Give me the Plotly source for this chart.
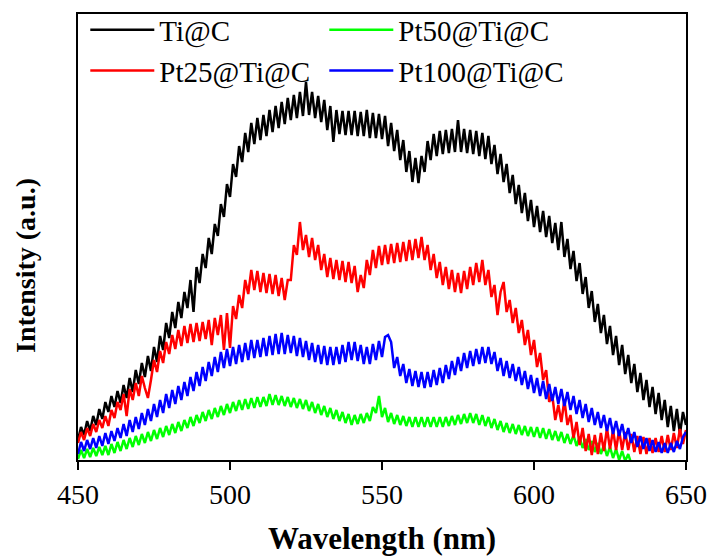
import plotly.graph_objects as go

wl_start = 450

ti_c = [
    20, 33, 25, 39, 29, 44, 35, 51, 41, 58,
    48, 64, 53, 69, 57, 75, 62, 82, 68, 90,
    76, 97, 83, 104, 89, 113, 98, 124, 110, 137,
    122, 148, 132, 158, 142, 168, 152, 180, 148, 193,
    177, 206, 192, 222, 206, 236, 224, 256, 243, 276,
    263, 296, 283, 314, 298, 327, 308, 337, 316, 342,
    320, 345, 324, 350, 328, 354, 332, 358, 336, 362,
    340, 365, 342, 368, 344, 378, 345, 368, 342, 364,
    338, 360, 330, 354, 318, 350, 326, 349, 325, 349,
    325, 349, 324, 348, 324, 350, 322, 347, 322, 346,
    321, 344, 314, 337, 309, 330, 300, 320, 288, 309,
    278, 302, 277, 304, 288, 319, 300, 326, 304, 329,
    306, 330, 307, 331, 308, 340, 308, 331, 307, 330,
    306, 329, 304, 327, 301, 324, 296, 315, 286, 306,
    278, 296, 267, 285, 256, 275, 247, 267, 239, 260,
    233, 254, 228, 249, 223, 244, 217, 237, 210, 238,
    203, 221, 191, 209, 179, 197, 166, 183, 152, 169,
    138, 156, 127, 145, 116, 134, 105, 124, 95, 115,
    86, 105, 77, 96, 68, 87, 60, 80, 53, 73,
    46, 67, 40, 60, 33, 54, 29, 51, 26, 48,
    35,
]

pt50 = [
    1, 10, 2, 11, 3, 12, 4, 13, 5, 14,
    5, 16, 7, 18, 9, 20, 11, 22, 13, 24,
    15, 26, 17, 28, 19, 30, 21, 32, 23, 34,
    25, 36, 27, 38, 29, 40, 32, 43, 34, 45,
    37, 48, 39, 50, 41, 52, 43, 54, 45, 56,
    47, 58, 49, 60, 50, 61, 51, 62, 52, 63,
    53, 63, 54, 66, 55, 65, 55, 64, 54, 63,
    53, 62, 52, 61, 51, 60, 49, 58, 47, 56,
    45, 54, 43, 52, 41, 50, 39, 48, 37, 46,
    35, 45, 36, 46, 37, 47, 39, 53, 47, 64,
    43, 52, 38, 47, 36, 45, 35, 44, 34, 43,
    33, 43, 33, 43, 33, 43, 33, 43, 33, 43,
    33, 43, 34, 44, 35, 45, 36, 46, 37, 47,
    37, 46, 35, 45, 34, 43, 32, 41, 30, 39,
    28, 37, 27, 36, 26, 35, 25, 34, 24, 33,
    23, 33, 22, 32, 21, 31, 20, 29, 19, 28,
    17, 26, 16, 25, 14, 23, 12, 21, 10, 19,
    8, 17, 6, 15, 4, 13, 2, 11, 0, 9,
    -1, 6, -4,
]

pt25 = [
    17, 28, 20, 32, 24, 36, 28, 40, 32, 44,
    34, 50, 42, 58, 50, 66, 44, 71, 60, 77,
    64, 84, 72, 62, 80, 100, 88, 109, 97, 118,
    106, 125, 111, 130, 114, 134, 117, 136, 118, 137,
    119, 138, 121, 140, 115, 142, 125, 145, 110, 147,
    112, 154, 141, 165, 152, 180, 166, 190, 170, 189,
    168, 187, 167, 186, 166, 185, 164, 182, 160, 180,
    180, 215, 205, 238, 210, 225, 203, 222, 200, 215,
    190, 206, 183, 202, 181, 200, 180, 199, 178, 198,
    177, 194, 168, 185, 172, 200, 185, 210, 192, 214,
    195, 215, 196, 216, 197, 217, 198, 218, 199, 220,
    200, 221, 202, 223, 200, 215, 190, 206, 182, 198,
    175, 193, 171, 190, 168, 187, 167, 189, 171, 193,
    175, 197, 178, 200, 175, 190, 163, 175, 145, 168,
    178, 148, 160, 137, 152, 127, 140, 115, 130, 105,
    120, 93, 107, 80, 90, 58, 65, 40, 55, 38,
    60, 35, 45, 22, 38, 15, 32, 9, 26, 5,
    25, 6, 27, 9, 32, 11, 30, 10, 30, 10,
    28, 10, 26, 8, 24, 6, 23, 6, 22, 7,
    22, 8, 24, 8, 25, 10, 27, 12, 31, 16,
    30,
]

pt100 = [
    6, 18, 9, 20, 11, 22, 12, 24, 14, 27,
    16, 29, 19, 32, 22, 36, 24, 40, 28, 43,
    31, 47, 35, 51, 39, 56, 43, 60, 47, 66,
    52, 70, 56, 74, 60, 78, 64, 83, 69, 88,
    74, 93, 79, 98, 84, 103, 88, 108, 92, 111,
    94, 113, 96, 115, 98, 117, 100, 120, 102, 120,
    103, 122, 104, 124, 105, 126, 106, 127, 106, 125,
    107, 124, 104, 122, 103, 119, 100, 117, 98, 115,
    96, 114, 95, 113, 95, 113, 96, 115, 98, 118,
    100, 118, 99, 115, 96, 113, 96, 116, 100, 119,
    103, 123, 125, 118, 92, 103, 84, 96, 77, 91,
    74, 89, 73, 88, 72, 88, 73, 90, 75, 92,
    77, 95, 81, 99, 85, 103, 89, 107, 92, 109,
    94, 111, 96, 113, 97, 113, 96, 108, 89, 102,
    84, 99, 82, 96, 79, 93, 75, 89, 71, 85,
    67, 82, 64, 79, 61, 76, 59, 73, 56, 71,
    54, 68, 50, 64, 46, 60, 42, 56, 38, 52,
    35, 48, 32, 45, 29, 42, 26, 39, 24, 36,
    21, 32, 17, 28, 13, 24, 11, 22, 9, 20,
    8, 18, 7, 17, 7, 17, 8, 19, 11, 23,
    28,
]

series = [
    ("Ti@C", ti_c, "#000000"),
    ("Pt50@Ti@C", pt50, "#00FF00"),
    ("Pt25@Ti@C", pt25, "#FF0000"),
    ("Pt100@Ti@C", pt100, "#0000FF"),
]

FONT = "Liberation Serif"

fig = go.Figure()
for name, vals, color in series:
    xs = [wl_start + i for i in range(len(vals))]
    fig.add_trace(go.Scatter(
        x=xs, y=vals, mode="lines", name=name,
        line=dict(color=color, width=2.5),
    ))

fig.add_annotation(
    text="<b>Intensity (a.u.)</b>", textangle=-90,
    xref="paper", yref="paper", x=-0.0855, y=0.435,
    xanchor="center", yanchor="middle", showarrow=False,
    font=dict(family=FONT, size=28, color="black"),
)

fig.update_layout(
    width=707, height=556,
    margin=dict(l=78, r=21, t=14, b=96, autoexpand=False),
    paper_bgcolor="white", plot_bgcolor="white",
    font=dict(family=FONT, color="black"),
    showlegend=True,
    legend=dict(
        orientation="h", x=0.012, y=0.992, yref="container",
        xanchor="left", yanchor="top",
        font=dict(family=FONT, size=29, color="black"),
        itemwidth=64,
        entrywidth=160, entrywidthmode="pixels",
        bgcolor="rgba(0,0,0,0)", traceorder="normal",
    ),
    xaxis=dict(
        range=[450, 650], tickvals=[450, 500, 550, 600, 650],
        ticks="outside", ticklen=8, tickwidth=2, tickcolor="black",
        ticklabeloverflow="allow", automargin=False,
        showline=True, linewidth=2, linecolor="black", mirror=True,
        showgrid=False, zeroline=False,
        tickfont=dict(family=FONT, size=28, color="black"),
        title=dict(text="<b>Wavelength (nm)</b>", standoff=28,
                   font=dict(family=FONT, size=31, color="black")),
    ),
    yaxis=dict(
        range=[0, 446], showticklabels=False, ticks="",
        showline=True, linewidth=2, linecolor="black", mirror=True,
        showgrid=False, zeroline=False, automargin=False,
    ),
)

fig.write_html("out.html")
